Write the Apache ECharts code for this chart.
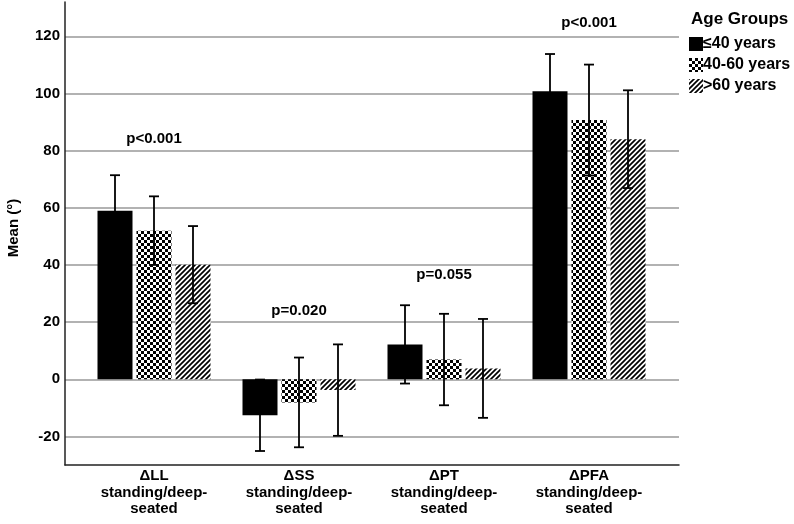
<!DOCTYPE html>
<html><head><meta charset="utf-8">
<script src="https://cdn.jsdelivr.net/npm/echarts@6/dist/echarts.min.js"></script>
<style>html,body{margin:0;padding:0;background:#fff}#c{width:794px;height:524px}</style>
</head><body><div id="c"></div>
<script>
const categories = ['ΔLL\nstanding/deep-\nseated', 'ΔSS\nstanding/deep-\nseated', 'ΔPT\nstanding/deep-\nseated', 'ΔPFA\nstanding/deep-\nseated'];
const seriesNames = ['≤40 years', '40-60 years', '>60 years'];
const meanLE40 = [59.0, -12.6, 12.2, 100.8];
const mean4060 = [52.0, -8.1, 6.9, 90.7];
const meanGT60 = [40.1, -3.8, 3.8, 84.0];
const errLE40 = [12.4, 12.5, 13.7, 13.0];
const err4060 = [12.0, 15.7, 16.0, 19.4];
const errGT60 = [13.5, 16.0, 17.3, 17.1];
const pLabels = ['p<0.001', 'p=0.020', 'p=0.055', 'p<0.001'];
const pLabelY = [84.0, 24.1, 36.4, 124.6];
const yTicks = [-20, 0, 20, 40, 60, 80, 100, 120];
const yMin = -30, yMax = 132;

const FONT = "'Liberation Sans', Arial, sans-serif";
const BAR_W = 35, BAR_GAP = 4;

function checkerCanvas() {
  const s = 6, c = document.createElement('canvas');
  c.width = s; c.height = s;
  const g = c.getContext('2d');
  g.fillStyle = '#fff'; g.fillRect(0, 0, s, s);
  g.fillStyle = '#000';
  g.fillRect(0, 0, s / 2, s / 2); g.fillRect(s / 2, s / 2, s / 2, s / 2);
  return c;
}
function hatchCanvas() {
  const s = 5, c = document.createElement('canvas');
  c.width = s; c.height = s;
  const g = c.getContext('2d');
  g.fillStyle = '#fff'; g.fillRect(0, 0, s, s);
  g.strokeStyle = '#000'; g.lineWidth = 1.7;
  g.beginPath();
  g.moveTo(0, s); g.lineTo(s, 0);
  g.moveTo(-1, 1); g.lineTo(1, -1);
  g.moveTo(s - 1, s + 1); g.lineTo(s + 1, s - 1);
  g.stroke();
  return c;
}
const fills = ['#000', { image: checkerCanvas(), repeat: 'repeat' }, { image: hatchCanvas(), repeat: 'repeat' }];
const means = [meanLE40, mean4060, meanGT60];
const errs = [errLE40, err4060, errGT60];

const chart = echarts.init(document.getElementById('c'), null, { renderer: 'canvas' });

const series = [];
means.forEach((m, k) => {
  series.push({
    name: seriesNames[k], type: 'bar', xAxisIndex: 1, yAxisIndex: 1,
    data: m, barWidth: BAR_W, barGap: (BAR_GAP / BAR_W * 100) + '%',
    itemStyle: { color: fills[k] }, z: 2
  });
});
means.forEach((m, k) => {
  const off = (k - 1) * (BAR_W + BAR_GAP);
  series.push({
    type: 'custom', xAxisIndex: 1, yAxisIndex: 1, z: 4, silent: true,
    data: m.map((v, i) => [i, v - errs[k][i], v + errs[k][i]]),
    encode: { x: 0, y: [1, 2] },
    renderItem: (params, api) => {
      const i = api.value(0);
      const lo = api.coord([i, api.value(1)]);
      const hi = api.coord([i, api.value(2)]);
      const cx = lo[0] + off, hw = 5;
      const st = { stroke: '#000', lineWidth: 1.8 };
      return { type: 'group', children: [
        { type: 'line', shape: { x1: cx, y1: lo[1], x2: cx, y2: hi[1] }, style: st },
        { type: 'line', shape: { x1: cx - hw, y1: lo[1], x2: cx + hw, y2: lo[1] }, style: st },
        { type: 'line', shape: { x1: cx - hw, y1: hi[1], x2: cx + hw, y2: hi[1] }, style: st }
      ]};
    }
  });
});
series.push({
  type: 'scatter', xAxisIndex: 1, yAxisIndex: 1, symbolSize: 0, silent: true, z: 5,
  itemStyle: { opacity: 1 },
  data: pLabelY.map((v, i) => [i, v]),
  label: { show: true, position: 'inside', formatter: p => pLabels[p.dataIndex], opacity: 1,
    fontFamily: FONT, fontWeight: 'bold', fontSize: 15, color: '#000' }
});

chart.setOption({
  animation: false,
  backgroundColor: '#fff',
  textStyle: { fontFamily: FONT },
  title: { text: 'Age Groups', left: 686, top: 6,
    textStyle: { fontFamily: FONT, fontWeight: 'bold', fontSize: 17, color: '#000' } },
  legend: {
    data: seriesNames, orient: 'vertical', left: 684, top: 31,
    itemWidth: 14, itemHeight: 14, itemGap: 5, icon: 'rect', selectedMode: false,
    textStyle: { fontFamily: FONT, fontWeight: 'bold', fontSize: 16, color: '#000', padding: [0, 0, 0, -5] }
  },
  graphic: [{
    type: 'text', x: 14, y: 228, rotation: Math.PI / 2,
    style: { text: 'Mean (°)', font: "bold 15px 'Liberation Sans', Arial, sans-serif",
      fill: '#000', align: 'center', verticalAlign: 'middle' }
  }],
  grid: [
    { left: 65, right: 115, top: 2, bottom: 59 },
    { left: 81.5, right: 132.5, top: 2, bottom: 59 }
  ],
  xAxis: [
    { gridIndex: 0, type: 'value', min: 0, max: 1,
      axisLine: { show: true, onZero: false, lineStyle: { color: '#222', width: 1.5 } },
      axisTick: { show: false }, axisLabel: { show: false }, splitLine: { show: false } },
    { gridIndex: 1, type: 'category', data: categories,
      axisLine: { show: false, onZero: false }, axisTick: { show: false },
      axisLabel: { interval: 0, margin: 3, lineHeight: 16.5, fontFamily: FONT, fontWeight: 'bold',
        fontSize: 15, color: '#000', align: 'center' } }
  ],
  yAxis: [
    { gridIndex: 0, type: 'value', min: yMin, max: yMax,
      axisLine: { show: true, onZero: false, lineStyle: { color: '#222', width: 1.5 } },
      axisTick: { show: false, customValues: yTicks },
      axisLabel: { customValues: yTicks, margin: 5, fontFamily: FONT, fontWeight: 'bold', fontSize: 15, color: '#000' },
      splitLine: { show: true, lineStyle: { color: '#999', width: 1.5 } } },
    { gridIndex: 1, type: 'value', min: yMin, max: yMax, show: false,
      axisLine: { onZero: false }, splitLine: { show: false } }
  ],
  series
});
</script></body></html>
